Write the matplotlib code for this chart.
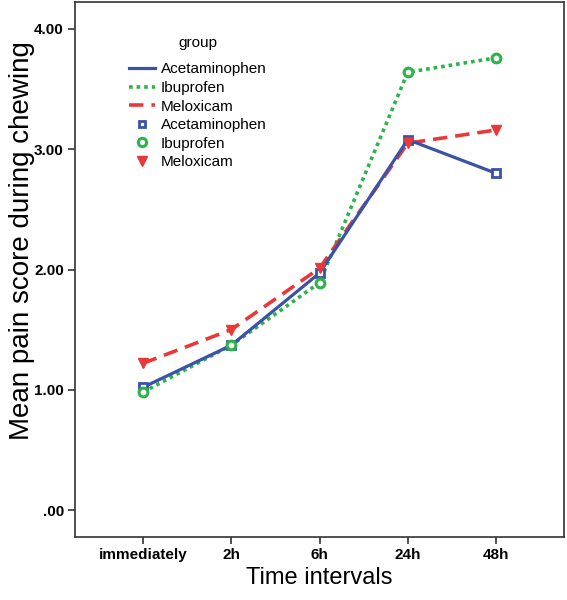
import matplotlib
matplotlib.use("Agg")
import matplotlib.pyplot as plt
from matplotlib.lines import Line2D

plt.rcParams['font.family'] = ['Liberation Sans', 'DejaVu Sans']

# data
times = ['immediately', '2h', '6h', '24h', '48h']
acetaminophen = [1.02, 1.37, 1.97, 3.08, 2.80]
ibuprofen = [0.98, 1.37, 1.89, 3.64, 3.76]
meloxicam = [1.22, 1.50, 2.01, 3.05, 3.16]
groups = ['Acetaminophen', 'Ibuprofen', 'Meloxicam']

blue = '#3a53a4'
green = '#2cb44a'
red = '#e8393a'

solid = '-'
dotted = (0, (1, 1.1))
dashed = (0, (4, 2.2))

fig = plt.figure(figsize=(5.67, 6.0), dpi=100)
ax = fig.add_axes([75 / 567, 1 - 537 / 600, (564 - 75) / 567, (537 - 2) / 600])

x = list(range(len(times)))
ax.plot(x, acetaminophen, color=blue, lw=2.3, ls=solid, zorder=3)
ax.plot(x, ibuprofen, color=green, lw=2.6, ls=dotted, zorder=2)
ax.plot(x, meloxicam, color=red, lw=2.6, ls=dashed, zorder=2)

ax.plot(x, acetaminophen, ls='none', marker='s', ms=5.5, mfc='white', mec=blue, mew=2, zorder=4)
ax.plot(x, ibuprofen, ls='none', marker='o', ms=6.3, mfc='white', mec=green, mew=2.2, zorder=4)
ax.plot(x, meloxicam, ls='none', marker='v', ms=7.5, mfc=red, mec=red, zorder=4)

ax.set_xlim(-0.77, 4.77)
ax.set_ylim(-0.224, 4.224)
ax.set_xticks(x)
ax.set_xticklabels(times, fontweight='bold', fontsize=11)
ax.set_yticks([0, 1, 2, 3, 4])
ax.set_yticklabels(['.00', '1.00', '2.00', '3.00', '4.00'], fontweight='bold', fontsize=11)
ax.tick_params(axis='both', direction='out', length=5, width=1.2, color='#333333', pad=3)

for s in ax.spines.values():
    s.set_linewidth(1.2)
    s.set_color('#333333')

ax.set_xlabel('Time intervals', fontsize=17)
ax.xaxis.set_label_coords(0.499, -0.057)
ax.set_ylabel('Mean pain score during chewing', fontsize=20)
ax.yaxis.set_label_coords(-0.082, 0.555)

handles = [
    Line2D([], [], color=blue, lw=2.3, ls=solid),
    Line2D([], [], color=green, lw=2.6, ls=dotted),
    Line2D([], [], color=red, lw=2.6, ls=dashed),
    Line2D([], [], ls='none', marker='s', ms=5, mfc='white', mec=blue, mew=2),
    Line2D([], [], ls='none', marker='o', ms=6, mfc='white', mec=green, mew=2.2),
    Line2D([], [], ls='none', marker='v', ms=7, mfc=red, mec=red),
]
leg = ax.legend(handles, groups + groups, title='group', loc='upper left',
                bbox_to_anchor=((129 - 75) / 489, (537 - 36) / 535),
                frameon=False, fontsize=11, title_fontsize=11, handlelength=1.7,
                handletextpad=0.4, labelspacing=0.3, borderpad=0, borderaxespad=0)
# wider gap between the title and the entries, as in the original
leg._legend_box.sep = 9

fig.savefig('out.png', dpi=100)
